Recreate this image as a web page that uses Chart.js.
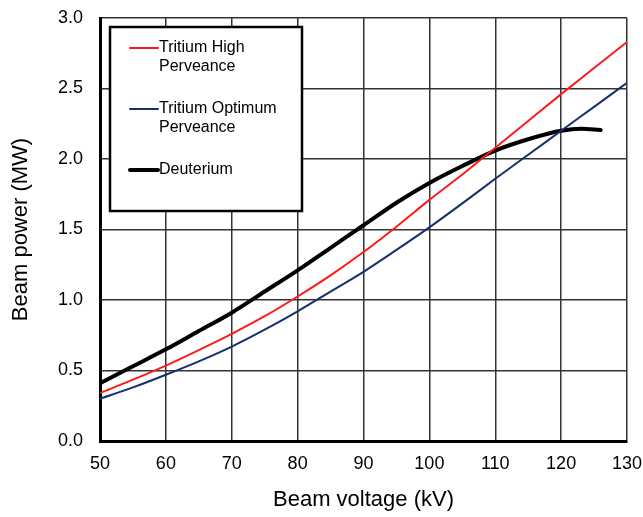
<!DOCTYPE html>
<html>
<head>
<meta charset="utf-8">
<script src="https://cdn.jsdelivr.net/npm/chart.js@4/dist/chart.umd.min.js"></script>
<style>
  html, body { margin: 0; padding: 0; background: #fff; }
  #wrap { width: 643px; height: 517px; }
</style>
</head>
<body>
<div id="wrap"><canvas id="beamChart"></canvas></div>
<script>
// Values
const voltage = [50, 55, 60, 65, 70, 75, 80, 85, 90, 95, 100, 105, 110, 115, 120, 125, 130];
const tritiumHigh = [0.34, 0.435, 0.535, 0.645, 0.76, 0.885, 1.025, 1.175, 1.34, 1.52, 1.71, 1.89, 2.08, 2.27, 2.46, 2.645, 2.83];
const tritiumOptimum = [0.30, 0.38, 0.47, 0.565, 0.67, 0.79, 0.92, 1.06, 1.20, 1.355, 1.515, 1.685, 1.86, 2.03, 2.20, 2.37, 2.54];
const deuteriumVoltage = [50, 55, 60, 65, 70, 75, 80, 85, 90, 95, 100, 105, 110, 115, 120, 123, 126];
const deuterium = [0.41, 0.53, 0.65, 0.78, 0.91, 1.06, 1.21, 1.37, 1.53, 1.69, 1.83, 1.95, 2.06, 2.14, 2.20, 2.215, 2.205];

const seriesNames = ["Tritium High|Perveance", "Tritium Optimum|Perveance", "Deuterium"];
const seriesColors = ["#ff1a1a", "#14306e", "#000000"];

function toPoints(xs, ys) {
  return xs.map((x, i) => ({ x: x, y: ys[i] }));
}

Chart.defaults.font.family = "'Liberation Sans', Arial, sans-serif";
Chart.defaults.color = "#000";

// Legend box drawn inside the plot area
const boxLegend = {
  id: "boxLegend",
  afterDraw(chart) {
    const ctx = chart.ctx;
    ctx.save();
    ctx.fillStyle = "#fff";
    ctx.fillRect(110, 27, 192, 184);
    ctx.strokeStyle = "#000";
    ctx.lineWidth = 2.5;
    ctx.strokeRect(110, 27, 192, 184);
    ctx.font = "16px 'Liberation Sans', Arial, sans-serif";
    ctx.textBaseline = "middle";
    const rows = [48, 109, 170];
    const widths = [2, 2, 4];
    seriesNames.forEach((name, i) => {
      const y = rows[i];
      ctx.strokeStyle = seriesColors[i];
      ctx.lineWidth = widths[i];
      ctx.lineCap = "round";
      ctx.beginPath();
      ctx.moveTo(130, y);
      ctx.lineTo(158, y);
      ctx.stroke();
      ctx.fillStyle = "#000";
      name.split("|").forEach((line, j) => {
        ctx.fillText(line, 159, y + j * 19);
      });
    });
    ctx.restore();
  },
};

new Chart(document.getElementById("beamChart"), {
  type: "line",
  data: {
    datasets: [
      {
        label: "Tritium High Perveance",
        data: toPoints(voltage, tritiumHigh),
        borderColor: seriesColors[0],
        borderWidth: 2,
        pointRadius: 0,
        cubicInterpolationMode: "monotone",
      },
      {
        label: "Tritium Optimum Perveance",
        data: toPoints(voltage, tritiumOptimum),
        borderColor: seriesColors[1],
        borderWidth: 2,
        pointRadius: 0,
        cubicInterpolationMode: "monotone",
      },
      {
        label: "Deuterium",
        data: toPoints(deuteriumVoltage, deuterium),
        borderColor: seriesColors[2],
        borderWidth: 4,
        borderCapStyle: "round",
        pointRadius: 0,
        cubicInterpolationMode: "monotone",
      },
    ],
  },
  options: {
    responsive: true,
    maintainAspectRatio: false,
    animation: false,
    layout: {
      autoPadding: false,
      padding: { left: 0, right: 16, top: 18, bottom: 0 },
    },
    plugins: {
      legend: { display: false },
      tooltip: { enabled: false },
    },
    scales: {
      x: {
        type: "linear",
        min: 50,
        max: 130,
        ticks: {
          stepSize: 10,
          padding: 12,
          font: { size: 18 },
        },
        grid: {
          color: "#333",
          lineWidth: 1.5,
          drawTicks: false,
        },
        border: { color: "#000", width: 3 },
        title: {
          display: true,
          text: "Beam voltage (kV)",
          font: { size: 22 },
          padding: { top: 12 },
        },
        afterFit(scale) {
          scale.height = 76;
          scale.paddingLeft = 0;
          scale.paddingRight = 0;
        },
      },
      y: {
        min: 0,
        max: 3,
        ticks: {
          stepSize: 0.5,
          padding: 17,
          font: { size: 18 },
          callback: (v) => v.toFixed(1),
        },
        grid: {
          color: "#333",
          lineWidth: 1.5,
          drawTicks: false,
        },
        border: { color: "#000", width: 3 },
        title: {
          display: true,
          text: "Beam power (MW)",
          font: { size: 22 },
          padding: { top: 8, bottom: 6 },
        },
        afterFit(scale) {
          scale.width = 100;
          scale.paddingTop = 0;
          scale.paddingBottom = 0;
        },
      },
    },
  },
  plugins: [boxLegend],
});
</script>
</body>
</html>
